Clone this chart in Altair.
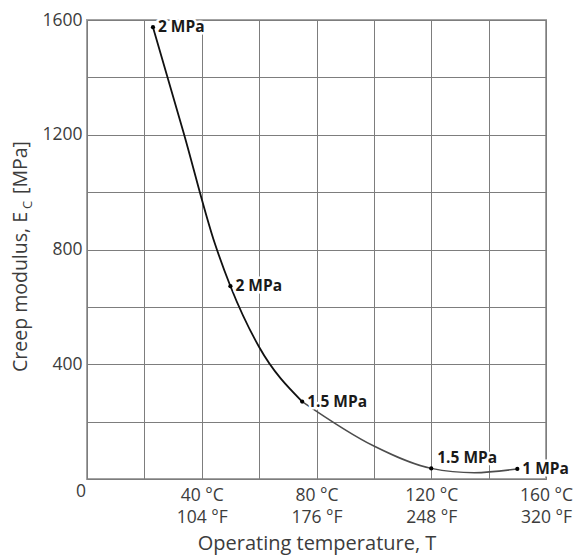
import altair as alt
import pandas as pd

# Measured test points: operating temperature (°C), creep modulus (MPa), applied stress
point_temp = [23, 50, 75, 120, 150]
point_modulus = [1575, 672, 270, 37, 35]
point_stress = ["2 MPa", "2 MPa", "1.5 MPa", "1.5 MPa", "1 MPa"]

# Creep-modulus curve through the test points
curve_temp = [23, 33.6, 44.6, 50, 60, 75, 100, 120, 135, 150]
curve_modulus = [1575, 1210, 820, 672, 460, 270, 115, 37, 22, 35]

# Axis ticks and labels
temp_grid = [0, 20, 40, 60, 80, 100, 120, 140, 160]
temp_labelled = [40, 80, 120, 160]
celsius_text = ["40 °C", "80 °C", "120 °C", "160 °C"]
fahrenheit_text = ["104 °F", "176 °F", "248 °F", "320 °F"]
modulus_grid = [0, 200, 400, 600, 800, 1000, 1200, 1400, 1600]
modulus_labelled = [400, 800, 1200, 1600]

x_title = "Operating temperature, T"
y_title_main = "Creep modulus, E"
y_title_sub = "C"
y_title_unit = "[MPa]"

FONT = "Open Sans"
TEXT_GREY = "#3c3c3c"

points = pd.DataFrame({"T": point_temp, "E": point_modulus, "stress": point_stress})
curve = pd.DataFrame({"T": curve_temp, "E": curve_modulus})

x_label_expr = " : ".join(
    f"datum.value == {t} ? ['{c}', '{f}']"
    for t, c, f in zip(temp_labelled, celsius_text, fahrenheit_text)
) + " : ''"
y_label_expr = " || ".join(f"datum.value == {v}" for v in modulus_labelled) + " ? datum.label : ''"

x_enc = alt.X(
    "T:Q",
    scale=alt.Scale(domain=[0, 160], nice=False, zero=False),
    axis=alt.Axis(
        values=temp_grid,
        labelExpr=x_label_expr,
        title=x_title,
        titleFont=FONT,
        titleFontSize=20,
        titleFontWeight="normal",
        titleColor=TEXT_GREY,
        titlePadding=8,
        labelFont=FONT,
        labelFontSize=17.5,
        labelColor=TEXT_GREY,
        labelLineHeight=22,
        labelPadding=7,
        ticks=False,
        domain=False,
        grid=True,
        labelFlush=False,
    ),
)
y_enc = alt.Y(
    "E:Q",
    scale=alt.Scale(domain=[0, 1600], nice=False),
    axis=alt.Axis(
        values=modulus_grid,
        labelExpr=y_label_expr,
        format="d",
        title=None,
        labelFont=FONT,
        labelFontSize=17.5,
        labelColor=TEXT_GREY,
        labelPadding=5,
        ticks=False,
        domain=False,
        grid=True,
    ),
)

upper = alt.Chart(curve).transform_filter("datum.T <= 75").mark_line(
    color="#111111", strokeWidth=1.8, interpolate="monotone"
).encode(x=x_enc, y=y_enc)

lower = alt.Chart(curve).transform_filter("datum.T >= 75").mark_line(
    color="#4d4d4d", strokeWidth=1.5, interpolate="monotone"
).encode(x=x_enc, y=y_enc)

dots = alt.Chart(points).mark_circle(size=18, color="#000000", opacity=1).encode(x=x_enc, y=y_enc)

label_style = dict(font=FONT, fontSize=15.5, fontWeight="bold", baseline="middle", align="left")

right_halo = alt.Chart(points).transform_filter("datum.T != 120").mark_text(
    dx=5, fill="white", stroke="white", strokeWidth=5, strokeJoin="round", **label_style
).encode(x=x_enc, y=y_enc, text="stress:N")
right_text = alt.Chart(points).transform_filter("datum.T != 120").mark_text(
    dx=5, color="#1a1a1a", **label_style
).encode(x=x_enc, y=y_enc, text="stress:N")

above_halo = alt.Chart(points).transform_filter("datum.T == 120").mark_text(
    dx=6, dy=-10, fill="white", stroke="white", strokeWidth=5, strokeJoin="round", **label_style
).encode(x=x_enc, y=y_enc, text="stress:N")
above_text = alt.Chart(points).transform_filter("datum.T == 120").mark_text(
    dx=6, dy=-10, color="#1a1a1a", **label_style
).encode(x=x_enc, y=y_enc, text="stress:N")

# Shared origin label, set just below-left of the corner
origin = alt.Chart(pd.DataFrame({"T": [0], "E": [0], "lab": ["0"]})).mark_text(
    font=FONT, fontSize=17.5, color=TEXT_GREY, align="right", baseline="top", dx=-1, dy=4
).encode(x=x_enc, y=y_enc, text="lab:N")

# Vertical axis title with a subscripted C
title_main = alt.Chart(pd.DataFrame({"t": [y_title_main]})).mark_text(
    font=FONT, fontSize=19.5, color=TEXT_GREY, angle=270, align="right", baseline="alphabetic"
).encode(x=alt.value(-60), y=alt.value(192), text="t:N")
title_sub = alt.Chart(pd.DataFrame({"t": [y_title_sub]})).mark_text(
    font=FONT, fontSize=13, color=TEXT_GREY, angle=270, align="left", baseline="alphabetic"
).encode(x=alt.value(-55), y=alt.value(189), text="t:N")
title_unit = alt.Chart(pd.DataFrame({"t": [y_title_unit]})).mark_text(
    font=FONT, fontSize=19.5, color=TEXT_GREY, angle=270, align="left", baseline="alphabetic"
).encode(x=alt.value(-60), y=alt.value(174), text="t:N")

chart = alt.layer(
    upper, lower, dots, right_halo, right_text, above_halo, above_text, origin,
    title_main, title_sub, title_unit,
).properties(
    width=459,
    height=459,
    autosize=alt.AutoSizeParams(type="none"),
    padding={"left": 87, "top": 20, "right": 30, "bottom": 80},
    background="white",
).configure_view(
    stroke="#a3a3a3", strokeWidth=2
).configure_axis(
    gridColor="#7d7d7d", gridWidth=1, gridOpacity=1
)

chart.save("out.html", embed_options={"renderer": "svg", "actions": False})
